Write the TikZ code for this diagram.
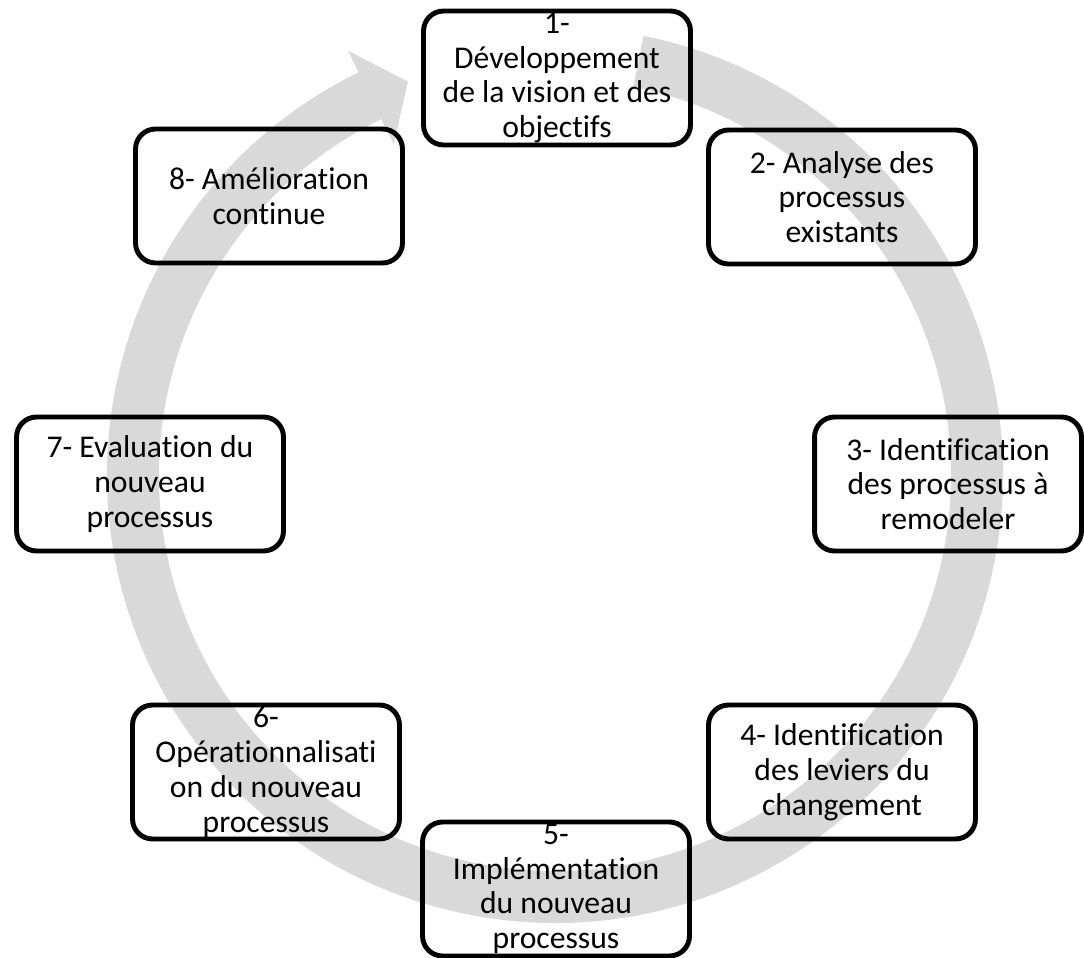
\documentclass[tikz,border=0pt]{standalone}
\usepackage{fontspec}
\setmainfont{Carlito}[Ligatures={NoCommon,NoContextual}]
\usetikzlibrary{calc}
\definecolor{anneau}{RGB}{217,217,217}
\tikzset{
  etape/.style={draw, line width=2.8pt, rounded corners=0.4cm,
    minimum width=5.34cm, minimum height=2.68cm, inner sep=0pt},
  etapetexte/.style={align=center, inner sep=0pt,
    font=\fontsize{18}{19.8}\selectfont}
}
\begin{document}
\begin{tikzpicture}[x=0.02cm, y=0.02cm]
  \useasboundingbox (0,0) rectangle (1084,957);
  % --- flèche circulaire (sens horaire) ---
  \coordinate (rc) at (555,482);
  \fill[anneau] ($(rc)+(78.6:448)$) arc[start angle=78.6, end angle=-244, radius=448]
    -- ($(rc)+(-244:472)$) -- ($(rc)+(-249.5:420)$) -- ($(rc)+(-244:368)$)
    -- ($(rc)+(-244:396)$) arc[start angle=-244, end angle=78.6, radius=396] -- cycle;

  % --- les huit étapes ---
  \node[etape] (b1) at (557,879) {};
  \node[etape] (b2) at (842,760) {};
  \node[etape] (b3) at (948,473) {};
  \node[etape] (b4) at (842,185) {};
  \node[etape] (b5) at (556,68) {};
  \node[etape] (b6) at (266,185) {};
  \node[etape] (b7) at (150,473) {};
  \node[etape] (b8) at (269,761) {};

  % textes (ils débordent des cadres)
  \node[etapetexte] (t1) at (b1) {1-\\Développement\\de la vision et des\\objectifs};
  \node[etapetexte] (t2) at (b2) {2- Analyse des\\processus\\existants};
  \node[etapetexte] (t3) at (b3) {3- Identification\\des processus à\\remodeler};
  \node[etapetexte] (t4) at (b4) {4- Identification\\des leviers du\\changement};
  \node[etapetexte] (t5) at (b5) {5-\\Implémentation\\du nouveau\\processus};
  \node[etapetexte] (t6) at (b6) {6-\\Opérationnalisati\\on du nouveau\\processus};
  \node[etapetexte] (t7) at (b7) {7- Evaluation du\\nouveau\\processus};
  \node[etapetexte] (t8) at (b8) {8- Amélioration\\continue};
\end{tikzpicture}
\end{document}
